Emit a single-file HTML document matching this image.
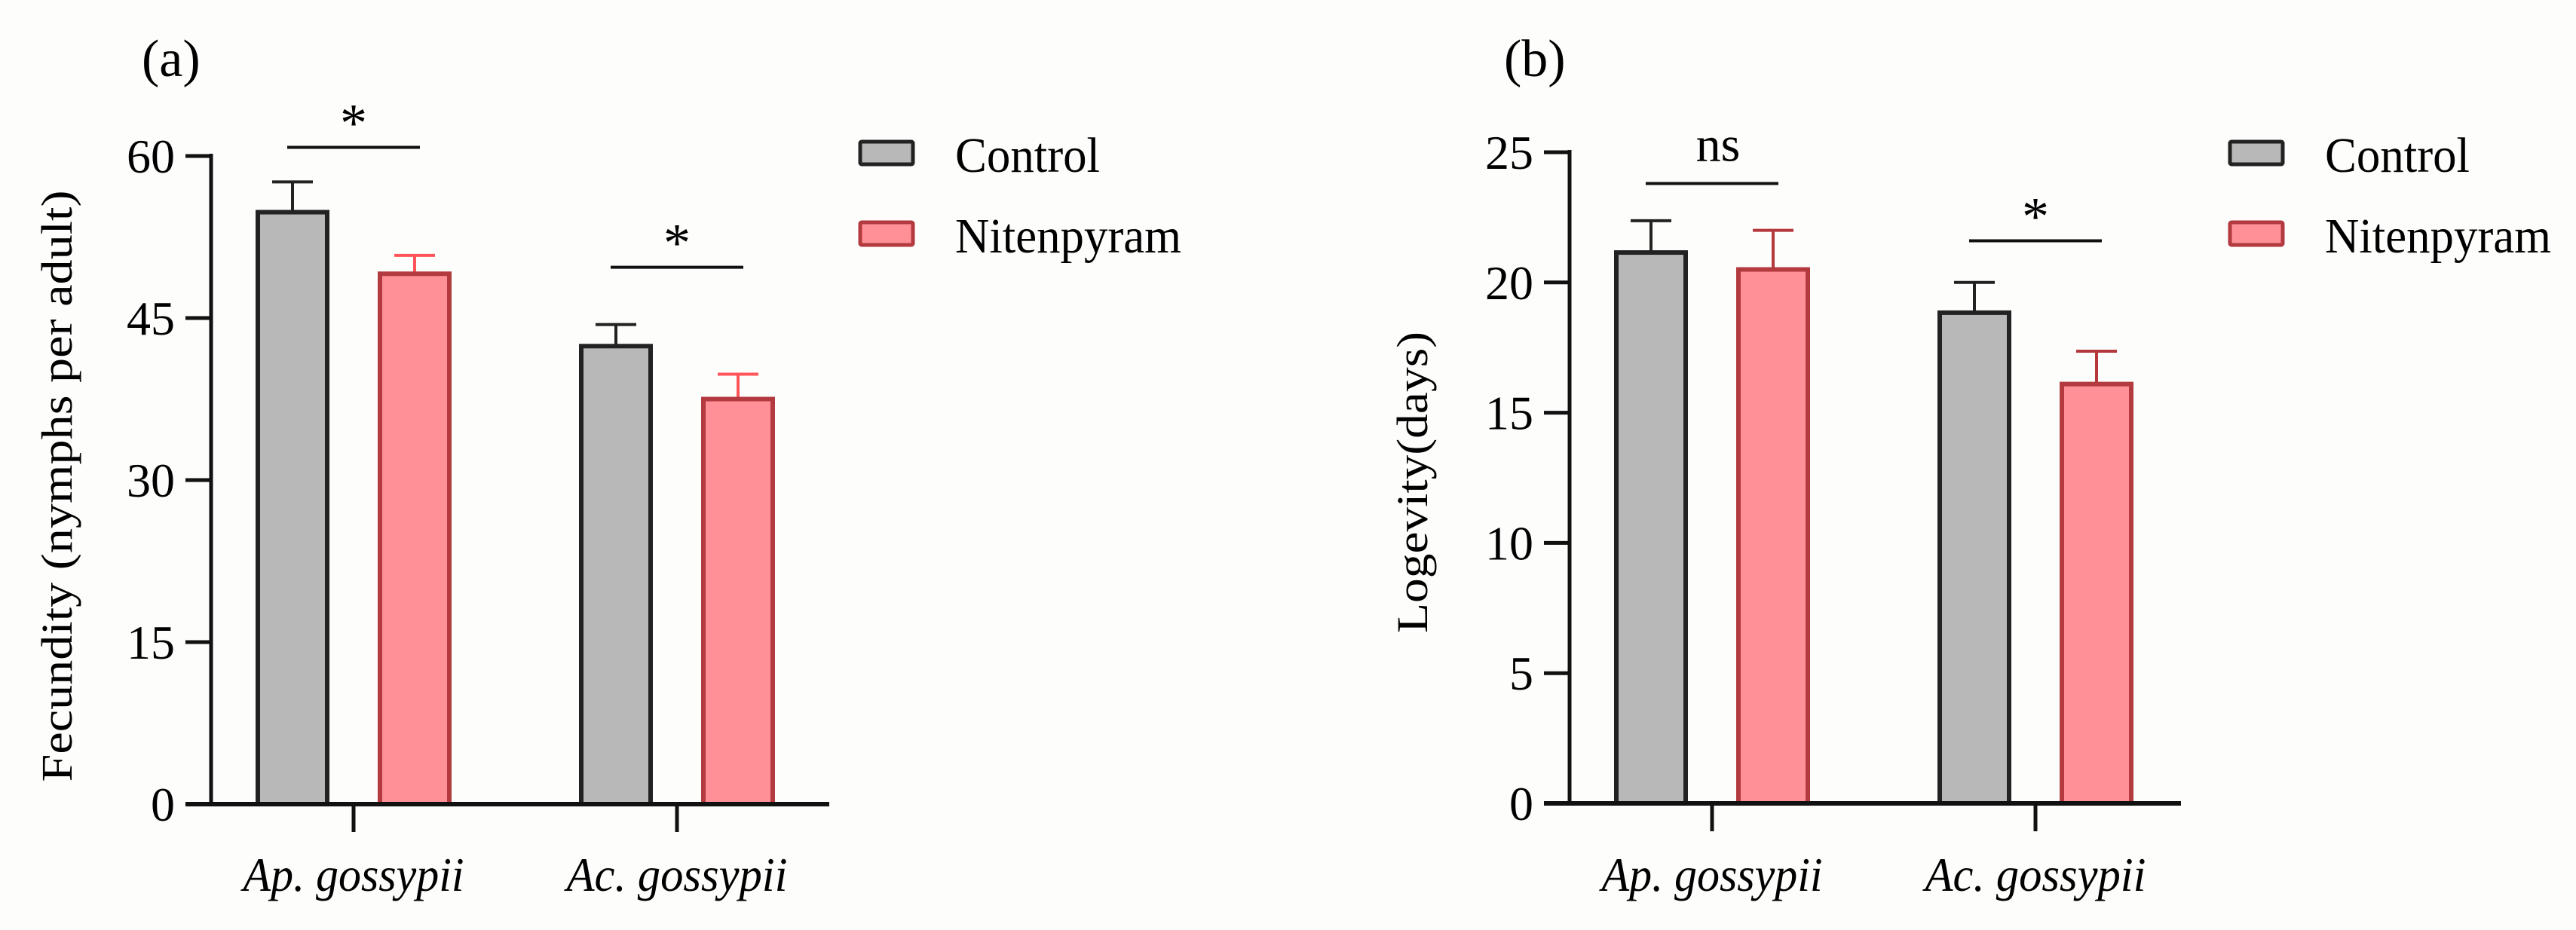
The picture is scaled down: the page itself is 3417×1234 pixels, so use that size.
<!DOCTYPE html>
<html><head><meta charset="utf-8"><style>
html,body{margin:0;padding:0;background:#fdfdfc;}
svg{display:block;font-family:"Liberation Serif",serif;}
</style></head><body>
<svg id="chart" width="3417" height="1234" viewBox="0 0 3417 1234" xmlns="http://www.w3.org/2000/svg">
<rect x="0" y="0" width="3417" height="1234" fill="#fdfdfc"/>
<g id="pa"></g>
<g id="pb"></g>
</svg>
<script>
const categories = ["Ap. gossypii", "Ac. gossypii"];
const seriesNames = ["Control", "Nitenpyram"];
const fecControl = [54.8, 42.4];
const fecControlErr = [2.8, 2.0];
const fecNiten = [49.1, 37.5];
const fecNitenErr = [1.7, 2.3];
const fecTicks = [0, 15, 30, 45, 60];
const fecSig = ["*", "*"];
const fecSigLevel = [60.8, 49.7];
const lonControl = [21.15, 18.84];
const lonControlErr = [1.22, 1.16];
const lonNiten = [20.5, 16.1];
const lonNitenErr = [1.5, 1.26];
const lonTicks = [0, 5, 10, 15, 20, 25];
const lonSig = ["ns", "*"];
const lonSigLevel = [23.8, 21.6];

const NS = "http://www.w3.org/2000/svg";
function mk(parent, tag, attrs, text) {
  const e = document.createElementNS(NS, tag);
  for (const k in attrs) e.setAttribute(k, attrs[k]);
  if (text !== undefined) e.textContent = text;
  parent.appendChild(e);
  return e;
}

function panel(g, cfg) {
  const y = v => cfg.y0 - (v / cfg.max) * (cfg.y0 - cfg.yTop);
  const x = i => cfg.cx[i];
  let t = mk(g, "text", {x: cfg.labelX, y: 101, "font-size": 70}, cfg.label);
  
  
  t = mk(g, "text", {x: 0, y: 0, "font-size": 58, "text-anchor": "middle", transform: `translate(${cfg.titleX},${cfg.titleY}) rotate(-90)`, textLength: cfg.titleLen, lengthAdjust: "spacingAndGlyphs"}, cfg.title);
  
  
  const groups = [[cfg.ctrl, cfg.ctrlErr, "#b7b8b7", "#222", "#222", -1, "control"], [cfg.nit, cfg.nitErr, "#ff9097", "#b33a3f", cfg.nitErrColor, 1, "nitenpyram"]];
  groups.forEach(([vals, errs, fill, stroke, ecol, side, nm]) => {
    vals.forEach((v, i) => {
      const bc = x(i) + side * 81;
      const top = y(v), et = y(v + errs[i]);
      let l = mk(g, "line", {x1: bc, x2: bc, y1: top, y2: et, stroke: ecol, "stroke-width": 4});
      
      
      l = mk(g, "line", {x1: bc - 27, x2: bc + 27, y1: et, y2: et, stroke: ecol, "stroke-width": 4});
      
      
      const r = mk(g, "rect", {x: bc - 46, y: top, width: 92, height: cfg.y0 - top, fill: fill, stroke: stroke, "stroke-width": 6});
      
      
    });
  });
  let a = mk(g, "line", {x1: cfg.ax, x2: cfg.ax, y1: cfg.yTop - 3, y2: cfg.y0 + 3, stroke: "#111", "stroke-width": 5});
  
  
  a = mk(g, "line", {x1: cfg.ax - 34, x2: cfg.xEnd, y1: cfg.y0, y2: cfg.y0, stroke: "#111", "stroke-width": 6});
  
  
  cfg.ticks.forEach(v => {
    const l = mk(g, "line", {x1: cfg.ax - 34, x2: cfg.ax, y1: y(v), y2: y(v), stroke: "#111", "stroke-width": 5});
    
    
    const tt = mk(g, "text", {x: cfg.ax - 48, y: y(v) + 22, "font-size": 64, "text-anchor": "end"}, String(v));
    
    
  });
  categories.forEach((c, i) => {
    const l = mk(g, "line", {x1: x(i), x2: x(i), y1: cfg.y0, y2: cfg.y0 + 37, stroke: "#111", "stroke-width": 5});
    
    
    const tt = mk(g, "text", {x: x(i), y: 1182, "font-size": 64, "font-style": "italic", "text-anchor": "middle", textLength: 293, lengthAdjust: "spacingAndGlyphs"}, c);
    
    
    const ly = y(cfg.sigLevel[i]);
    const s = mk(g, "line", {x1: x(i) - 88, x2: x(i) + 88, y1: ly, y2: ly, stroke: "#111", "stroke-width": 4});
    
    
    const isStar = cfg.sig[i] === "*";
    const st = mk(g, "text", {x: x(i) + (isStar ? 0 : 8), y: isStar ? ly - 8 : ly - 30, "font-size": isStar ? 72 : 66, "text-anchor": "middle"}, cfg.sig[i]);
    
    
  });
  seriesNames.forEach((n, i) => {
    const by = 188 + i * 107;
    const r = mk(g, "rect", {x: cfg.legX, y: by, width: 70, height: 30, fill: i ? "#ff9097" : "#b7b8b7", stroke: i ? "#b33a3f" : "#222", "stroke-width": 5, rx: 2});
    
    
    const tt = mk(g, "text", {x: cfg.legX + 126, y: by + 40, "font-size": 66, textLength: i ? 300 : 192, lengthAdjust: "spacingAndGlyphs"}, n);
    
    
  });
}

panel(document.getElementById("pa"), {
  label: "(a)", labelX: 188, title: "Fecundity (nymphs per adult)", titleX: 95, titleY: 645, titleLen: 785,
  ax: 280, y0: 1067, yTop: 207, max: 60, xEnd: 1100, cx: [469, 898],
  ctrl: fecControl, ctrlErr: fecControlErr, nit: fecNiten, nitErr: fecNitenErr, nitErrColor: "#ff555a",
  ticks: fecTicks, sig: fecSig, sigLevel: fecSigLevel, legX: 1141
});
panel(document.getElementById("pb"), {
  label: "(b)", labelX: 1995, title: "Logevity(days)", titleX: 1893, titleY: 640, titleLen: 400,
  ax: 2082, y0: 1066, yTop: 202, max: 25, xEnd: 2893, cx: [2271, 2700],
  ctrl: lonControl, ctrlErr: lonControlErr, nit: lonNiten, nitErr: lonNitenErr, nitErrColor: "#b5383d",
  ticks: lonTicks, sig: lonSig, sigLevel: lonSigLevel, legX: 2958
});
</script>
</body></html>
